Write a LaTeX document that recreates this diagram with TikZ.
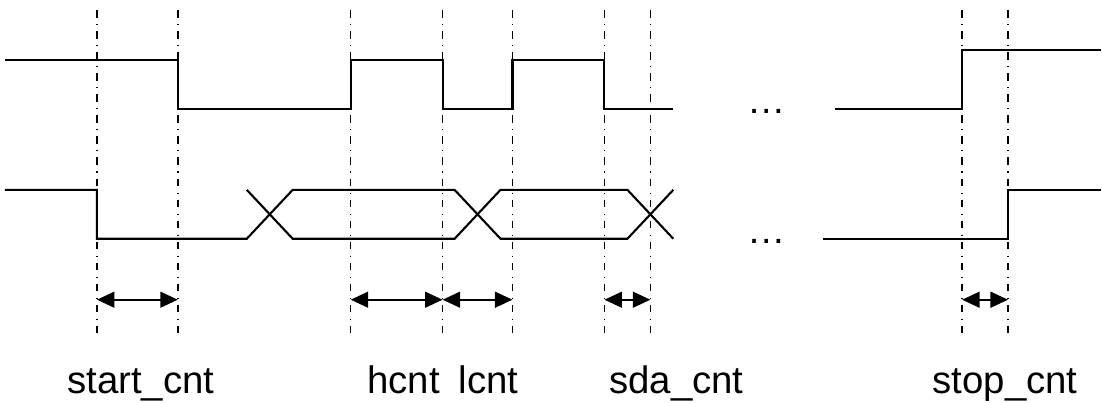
\documentclass[tikz,border=0pt]{standalone}
\usepackage{fontspec}
\setmainfont{Liberation Sans}
\usepackage{tikz}
\usetikzlibrary{arrows.meta, positioning}

\begin{document}
\begin{tikzpicture}[x=0.02cm, y=-0.02cm,
		sig/.style={line width=1.2pt},
		guide/.style={line width=0.9pt, dash pattern=on 4.3pt off 3.7pt on 0.6pt off 3.4pt},
		span/.style={line width=1.2pt, {Triangle[length=10pt,width=9pt]}-{Triangle[length=10pt,width=9pt]}},
		lbl/.style={inner sep=0pt, anchor=base, font=\fontsize{21.85}{26}\selectfont}]
		\fill[white] (0,0) rectangle (1102,403);
		
		% guide lines and the ends of the spans
		\foreach \x/\n in {97/a,178/b,351/c,443/d,513/e,605/f,651/g,963/h,1009/i} {
			\draw[guide] (\x,10) -- (\x,340);
			\coordinate (\n) at (\x,300);
		}
		
		% scl
		\draw[sig] (5,60) -- (178,60) -- (178,109) -- (351,109) -- (351,60) -- (443,60) -- (443,109)
			-- (513,109) -- (513,60) -- (605,60) -- (605,109) -- (674,109);
		\draw[sig] (836,109) -- (963,109) -- (963,50) -- (1102,50);
		
		% sda
		\draw[sig] (5,190) -- (97,190) -- (97,239) -- (247,239) -- (293,190) -- (455,190)
			-- (501,239) -- (628,239) -- (674,190);
		\draw[sig] (247,190) -- (293,239) -- (455,239) -- (501,190) -- (628,190) -- (674,239);
		\draw[sig] (824,239) -- (1009,239) -- (1009,190) -- (1102,190);
		
		\node[lbl] (dots1) at (767,114) {…};
		\node[lbl] (dots2) at (767,244) {…};
		
		\draw[span] (a) -- (b);
		\draw[span] (c) -- (d);
		\draw[span] (d) -- (e);
		\draw[span] (f) -- (g);
		\draw[span] (h) -- (i);
		
		\node[lbl] (start) at (141,394) {start\_cnt};
		\node[lbl] (hcnt) at (404,394) {hcnt};
		\node[lbl] (lcnt) at (489,394) {lcnt};
		\node[lbl] (sda) at (677,394) {sda\_cnt};
		\node[lbl] (stop) at (1006,394) {stop\_cnt};

	\end{tikzpicture}
\end{document}
